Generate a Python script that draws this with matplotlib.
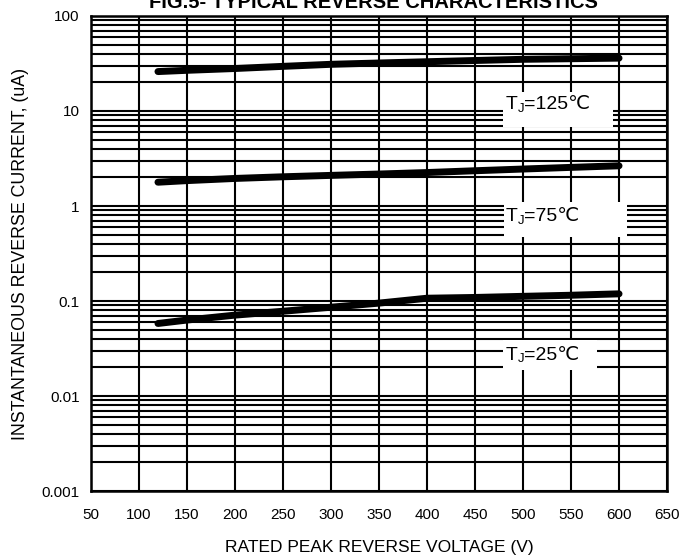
import matplotlib
matplotlib.use("Agg")
import matplotlib.pyplot as plt
from matplotlib.patches import Rectangle
import numpy as np

plt.rcParams['font.family'] = ['Liberation Sans', 'DejaVu Sans']

# Data
voltage = [120, 150, 200, 250, 300, 350, 400, 450, 500, 550, 600]
i_125 = [26, 26.8, 28, 29.5, 31, 32, 33, 34, 35, 35.5, 36]
i_75 = [1.78, 1.85, 1.95, 2.03, 2.1, 2.17, 2.25, 2.35, 2.45, 2.55, 2.65]
i_25 = [0.058, 0.063, 0.071, 0.078, 0.086, 0.095, 0.107, 0.109, 0.112, 0.115, 0.119]

x_ticks = [50, 100, 150, 200, 250, 300, 350, 400, 450, 500, 550, 600, 650]
y_ticks = [0.001, 0.01, 0.1, 1, 10, 100]
y_tick_labels = ["0.001", "0.01", "0.1", "1", "10", "100"]

label_temps = ["125", "75", "25"]
label_x = [482, 482, 482]
label_y = [11.6, 0.77, 0.027]
box_x = [(479, 594), (480, 608), (479, 577)]
box_y = [(6.8, 15.85), (0.472, 1.10), (0.0188, 0.0389)]

fig = plt.figure(figsize=(6.8, 5.59), dpi=100)
ax = fig.add_axes([0.1334, 0.1216, 0.981 - 0.1334, 0.9714 - 0.1216])

ax.set_yscale('log')
ax.set_xlim(50, 650)
ax.set_ylim(0.001, 100)

ax.set_xticks(x_ticks)
ax.set_yticks(y_ticks)
ax.set_yticklabels(y_tick_labels)
ax.yaxis.set_minor_locator(matplotlib.ticker.LogLocator(base=10, subs=np.arange(2, 10), numticks=100))
ax.yaxis.set_minor_formatter(matplotlib.ticker.NullFormatter())
ax.xaxis.set_minor_locator(matplotlib.ticker.NullLocator())

ax.set_axisbelow(True)
ax.grid(True, which='both', axis='y', color='black', linewidth=1.5)
ax.grid(True, which='major', axis='x', color='black', linewidth=1.5)

ax.tick_params(axis='both', which='both', length=0, labelsize=11, pad=8)
ax.tick_params(axis='x', pad=12)
for s in ax.spines.values():
    s.set_linewidth(1.8)
    s.set_color('black')

for (x0, x1), (y0, y1) in zip(box_x, box_y):
    ax.add_patch(Rectangle((x0, y0), x1 - x0, y1 - y0, facecolor='white',
                           edgecolor='none', zorder=2))

for temp, x, y in zip(label_temps, label_x, label_y):
    t1 = ax.text(x, y, "T", fontsize=14, ha='left', va='center', zorder=3)
    t2 = ax.annotate("J", xy=(1, -0.08), xycoords=t1, fontsize=9.5,
                     ha='left', va='bottom', zorder=3)
    ax.annotate("=" + temp + "℃", xy=(1, 0), xycoords=(t2, t1), fontsize=14,
                ha='left', va='bottom', zorder=3)

for series in (i_125, i_75, i_25):
    ax.plot(voltage, series, color='black', linewidth=5, solid_capstyle='round', zorder=4)

ax.set_xlabel("RATED PEAK REVERSE VOLTAGE (V)", fontsize=12.5, labelpad=13)
ax.set_ylabel("INSTANTANEOUS REVERSE CURRENT, (uA)", fontsize=12.8, labelpad=9)
fig.text(0.549, 1 - 8 / 559, "FIG.5- TYPICAL REVERSE CHARACTERISTICS", fontsize=14.5,
         fontweight='bold', ha='center', va='baseline')

fig.savefig("out.png", dpi=100)
